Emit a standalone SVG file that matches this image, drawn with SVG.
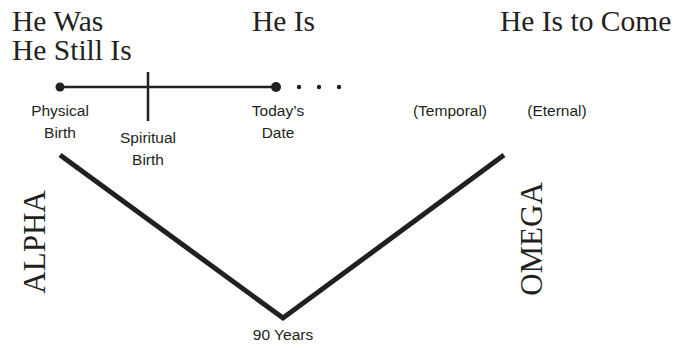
<svg xmlns="http://www.w3.org/2000/svg" width="682" height="348" viewBox="0 0 682 348">
<style>
.h{font-family:"Liberation Serif","Times New Roman",serif;font-size:29.5px;fill:#231f20}
.big{font-family:"Liberation Serif","Times New Roman",serif;font-size:31px;fill:#231f20}
.s{font-family:"Liberation Sans",Arial,sans-serif;font-size:15.5px;fill:#231f20;text-anchor:middle}
.ln{stroke:#231f20;fill:none}
</style>
<rect width="682" height="348" fill="#fff"/>
<g id="headers">
<text class="h" x="12" y="31">He Was</text>
<text class="h" x="12" y="60">He Still Is</text>
<text class="h" x="252" y="31">He Is</text>
<text class="h" x="500" y="31">He Is to Come</text>
</g>
<g id="connectors">
<line class="ln" x1="60" y1="87" x2="276" y2="87" stroke-width="2.5"/>
<line class="ln" x1="148" y1="72" x2="148" y2="121" stroke-width="2.5"/>
<polyline class="ln" points="60,155 283,318 504,155" stroke-width="5" stroke-linejoin="miter"/>
</g>
<g id="physical-birth">
<circle cx="60" cy="87" r="4.5" fill="#231f20"/>
<text class="s" x="60" y="116">Physical</text>
<text class="s" x="60" y="138">Birth</text>
</g>
<g id="spiritual-birth">
<text class="s" x="148" y="143">Spiritual</text>
<text class="s" x="148" y="165">Birth</text>
</g>
<g id="todays-date">
<circle cx="276" cy="87" r="5" fill="#231f20"/>
<circle cx="299" cy="87" r="2.2" fill="#231f20"/>
<circle cx="319" cy="87" r="2.2" fill="#231f20"/>
<circle cx="339" cy="87" r="2.2" fill="#231f20"/>
<text class="s" x="278" y="116">Today’s</text>
<text class="s" x="278" y="138">Date</text>
</g>
<g id="temporal"><text class="s" x="450" y="116">(Temporal)</text></g>
<g id="eternal"><text class="s" x="557" y="116">(Eternal)</text></g>
<g id="alpha"><text class="big" transform="translate(45,242) rotate(-90)" text-anchor="middle">ALPHA</text></g>
<g id="omega"><text class="big" transform="translate(542,239) rotate(-90)" text-anchor="middle">OMEGA</text></g>
<g id="ninety"><text class="s" x="283" y="340">90 Years</text></g>
</svg>
